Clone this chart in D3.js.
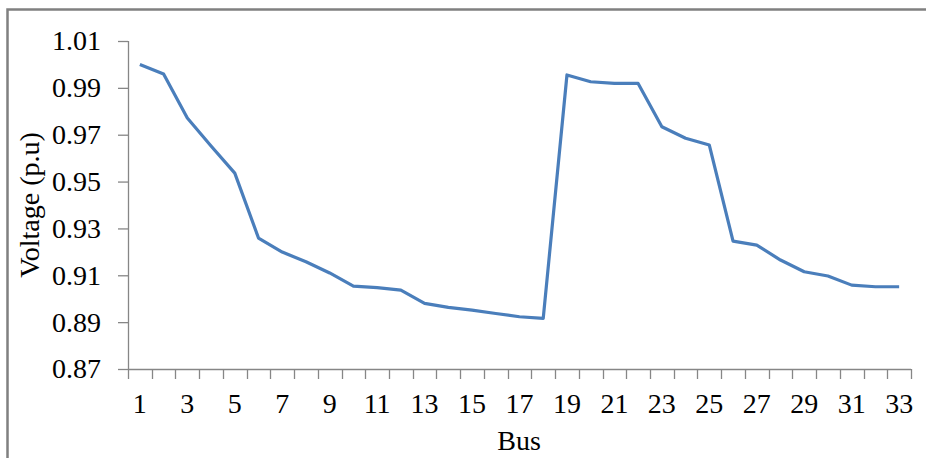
<!DOCTYPE html>
<html>
<head>
<meta charset="utf-8">
<script src="https://cdn.jsdelivr.net/npm/d3@7"></script>
<style>
  body { margin: 0; background: #fff; }
  svg { display: block; }
  text { font-family: "Liberation Serif", "Times New Roman", serif; fill: #000; }
</style>
</head>
<body>
<div id="chart"></div>
<script>
// Bus numbers and voltage profile (p.u)
var buses = d3.range(1, 34);
var voltages = [1.0000, 0.9959, 0.9771, 0.9652, 0.9536, 0.9259, 0.9199, 0.9158, 0.9110, 0.9054,
                0.9047, 0.9037, 0.8980, 0.8963, 0.8951, 0.8937, 0.8923, 0.8916, 0.9955, 0.9926,
                0.9919, 0.9919, 0.9734, 0.9685, 0.9656, 0.9246, 0.9229, 0.9165, 0.9115, 0.9097,
                0.9058, 0.9051, 0.9051];
var yTicks = [0.87, 0.89, 0.91, 0.93, 0.95, 0.97, 0.99, 1.01];

var width = 926,
    height = 458,
    margin = { top: 41, right: 15, bottom: 89, left: 128 },
    fontSize = '28px';

var svg = d3.select('#chart').append('svg')
    .attr('width', width)
    .attr('height', height);

// Outer chart frame (only top and left edges are in view)
svg.append('rect')
    .attr('x', 7.5)
    .attr('y', 9.5)
    .attr('width', width + 20)
    .attr('height', height + 20)
    .attr('fill', 'none')
    .attr('stroke', '#808080')
    .attr('stroke-width', 2.5);

var x = d3.scaleBand()
    .domain(buses)
    .range([margin.left, 911]);

var y = d3.scaleLinear()
    .domain([0.87, 1.01])
    .range([369, margin.top]);

// Y axis
var yAxis = svg.append('g')
    .attr('transform', 'translate(' + margin.left + ',0)')
    .call(d3.axisLeft(y).tickValues(yTicks).tickFormat(d3.format('.2f')).tickSize(10).tickPadding(17));

yAxis.select('.domain').attr('stroke', '#868686').attr('stroke-width', 1.3)
    .attr('d', 'M0.5,' + y(1.01) + 'V' + y(0.87));
yAxis.selectAll('.tick line').attr('stroke', '#868686').attr('stroke-width', 1.3);
yAxis.selectAll('.tick text').style('font-size', fontSize);

// X axis: ticks between categories, labels on odd buses
var xAxisG = svg.append('g')
    .attr('transform', 'translate(0,' + y(0.87) + ')');

xAxisG.append('line')
    .attr('x1', x.range()[0]).attr('x2', x.range()[1])
    .attr('y1', 0.5).attr('y2', 0.5)
    .attr('stroke', '#868686').attr('stroke-width', 1.3);

var bounds = buses.map(function(b) { return x(b); }).concat([x.range()[1]]);
xAxisG.selectAll('.xtick')
    .data(bounds)
  .enter().append('line')
    .attr('class', 'xtick')
    .attr('x1', function(d) { return Math.round(d) + 0.5; })
    .attr('x2', function(d) { return Math.round(d) + 0.5; })
    .attr('y1', 0).attr('y2', 10)
    .attr('stroke', '#868686').attr('stroke-width', 1.3);

xAxisG.selectAll('.xlabel')
    .data(buses.filter(function(b) { return b % 2 === 1; }))
  .enter().append('text')
    .attr('class', 'xlabel')
    .attr('x', function(d) { return x(d) + x.bandwidth() / 2; })
    .attr('y', 44)
    .attr('text-anchor', 'middle')
    .style('font-size', fontSize)
    .text(function(d) { return d; });

// Line
var line = d3.line()
    .x(function(d, i) { return x(buses[i]) + x.bandwidth() / 2; })
    .y(function(d) { return y(d); });

svg.append('path')
    .datum(voltages)
    .attr('fill', 'none')
    .attr('stroke', '#4A7EBB')
    .attr('stroke-width', 3.2)
    .attr('stroke-linejoin', 'round')
    .attr('d', line);

// Axis titles
svg.append('text')
    .attr('x', 519)
    .attr('y', 450)
    .attr('text-anchor', 'middle')
    .style('font-size', fontSize)
    .text('Bus');

svg.append('text')
    .attr('transform', 'translate(39,' + ((y(1.01) + y(0.87)) / 2) + ') rotate(-90)')
    .attr('text-anchor', 'middle')
    .style('font-size', fontSize)
    .text('Voltage (p.u)');
</script>
</body>
</html>
